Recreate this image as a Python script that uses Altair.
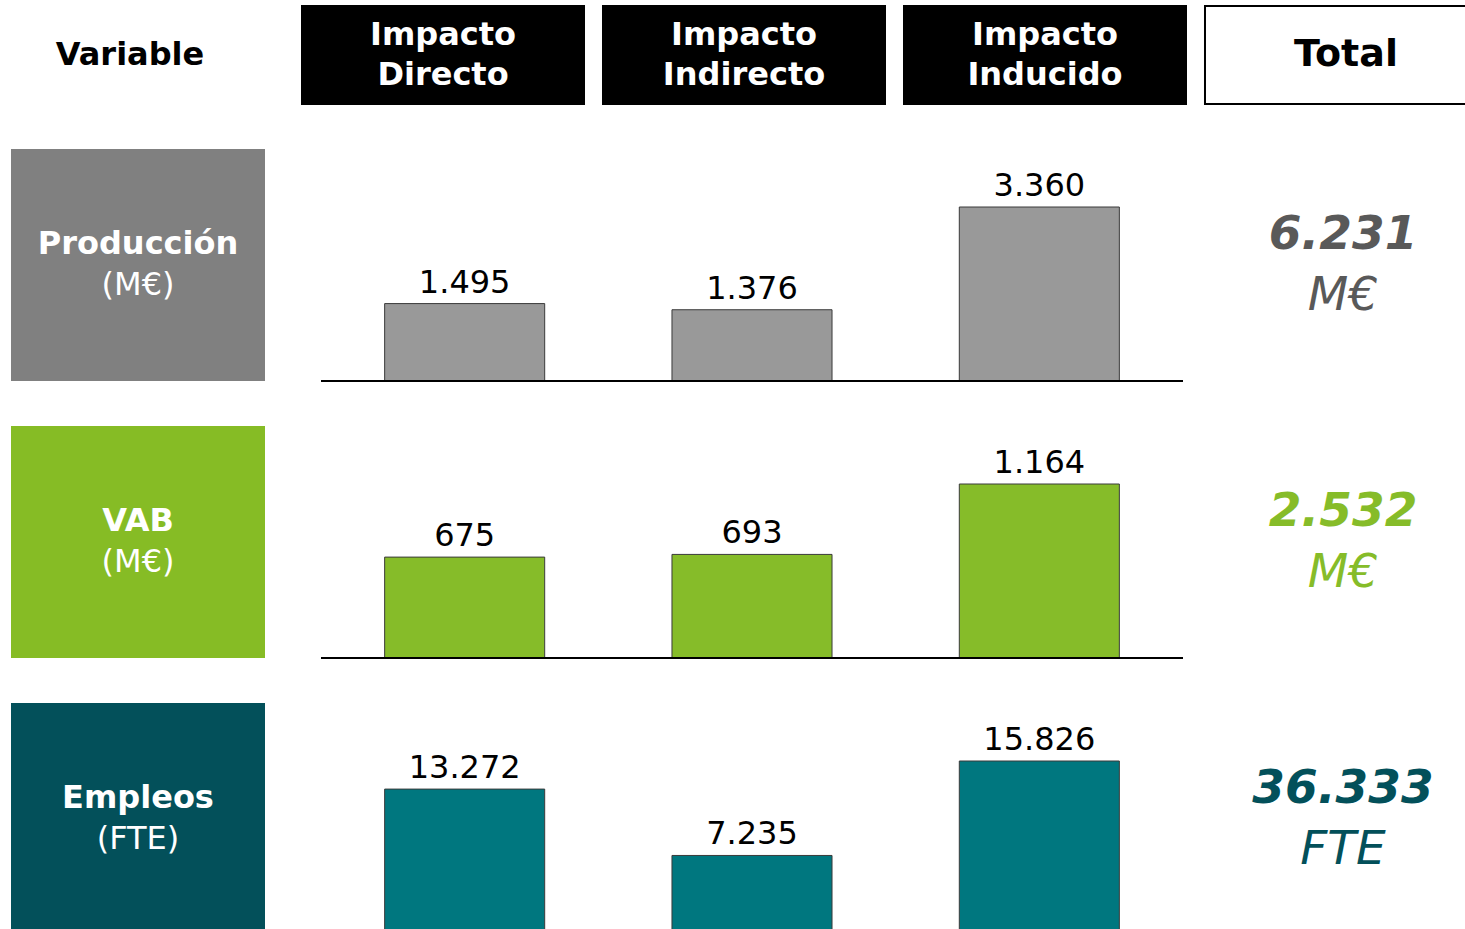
import altair as alt
import pandas as pd

# ---- data ----
variables = ["Producción", "VAB", "Empleos"]
units = ["(M€)", "(M€)", "(FTE)"]
total_units = ["M€", "M€", "FTE"]
impacts = ["Impacto Directo", "Impacto Indirecto", "Impacto Inducido"]
header_cols = ["Impacto\nDirecto", "Impacto\nIndirecto", "Impacto\nInducido", "Total"]
header_kind = ["impact", "impact", "impact", "total"]
produccion = [1495, 1376, 3360]
vab = [675, 693, 1164]
empleos = [13272, 7235, 15826]
series = [produccion, vab, empleos]

# ---- styles ----
box_colors = ["#808080", "#86bc25", "#03505a"]
bar_colors = ["#999999", "#86bc29", "#00777f"]
total_colors = ["#595959", "#86bc29", "#03505a"]
FONT = "DejaVu Sans"

fmt = "replace(format(datum.value, ',d'), ',', '.')"

rows_df = pd.DataFrame({"variable": variables, "unit": units, "tunit": total_units})
long_df = pd.DataFrame(
    [
        {"variable": v, "tunit": tu, "impact": imp, "value": val}
        for v, tu, vals in zip(variables, total_units, series)
        for imp, val in zip(impacts, vals)
    ]
)
header_df = pd.DataFrame({"col": header_cols, "kind": header_kind})

row_scale = alt.Scale(type="band", domain=variables, range=[149, 935], paddingInner=0.1625, paddingOuter=0)
hx = alt.Scale(type="band", domain=header_cols, range=[302, 1487], paddingInner=0.0631, paddingOuter=0)
bx = alt.Scale(type="band", domain=impacts, range=[321, 1183], paddingInner=0.443, paddingOuter=0.2215)

layers = []

# header "Variable"
layers.append(
    alt.Chart(pd.DataFrame({"t": ["Variable"]}))
    .mark_text(font=FONT, fontSize=32, fontWeight="bold", color="black", baseline="middle")
    .encode(x=alt.value(130), y=alt.value(55), text="t:N")
)
# header boxes
layers.append(
    alt.Chart(header_df)
    .mark_rect(stroke="black", strokeWidth=2)
    .encode(
        x=alt.X("col:N", scale=hx, axis=None),
        y=alt.value(6),
        y2=alt.value(104),
        fill=alt.Fill("kind:N", scale=alt.Scale(domain=["impact", "total"], range=["black", "white"]), legend=None),
    )
)
layers.append(
    alt.Chart(header_df)
    .transform_filter("datum.kind == 'impact'")
    .mark_text(font=FONT, fontSize=32, fontWeight="bold", color="white", baseline="middle", lineBreak="\n", lineHeight=40)
    .encode(x=alt.X("col:N", scale=hx, axis=None), y=alt.value(35), text="col:N")
)
layers.append(
    alt.Chart(header_df)
    .transform_filter("datum.kind == 'total'")
    .mark_text(font=FONT, fontSize=38, fontWeight="bold", color="black", baseline="middle")
    .encode(x=alt.X("col:N", scale=hx, axis=None), y=alt.value(55), text="col:N")
)

# left variable boxes
layers.append(
    alt.Chart(rows_df)
    .mark_rect()
    .encode(
        y=alt.Y("variable:N", scale=row_scale, axis=None),
        x=alt.value(11),
        x2=alt.value(265),
        color=alt.Color("variable:N", scale=alt.Scale(domain=variables, range=box_colors), legend=None),
    )
)
layers.append(
    alt.Chart(rows_df)
    .mark_text(font=FONT, fontSize=32, fontWeight="bold", color="white", baseline="middle", dy=-21)
    .encode(y=alt.Y("variable:N", scale=row_scale, axis=None), x=alt.value(138), text="variable:N")
)
layers.append(
    alt.Chart(rows_df)
    .mark_text(font=FONT, fontSize=32, color="white", baseline="middle", dy=20)
    .encode(y=alt.Y("variable:N", scale=row_scale, axis=None), x=alt.value(138), text="unit:N")
)

# bars per row
for i, (var, vals, col) in enumerate(zip(variables, series, bar_colors)):
    base_y = 149 + 232 + 277 * i
    ysc = alt.Scale(domain=[0, max(vals)], range=[base_y, base_y - 174], nice=False, zero=True)
    d = long_df[long_df["variable"] == var]
    layers.append(
        alt.Chart(d)
        .mark_bar(color=col, stroke="#3a3a3a", strokeWidth=1)
        .encode(x=alt.X("impact:N", scale=bx, axis=None), y=alt.Y("value:Q", scale=ysc, axis=None))
    )
    layers.append(
        alt.Chart(d)
        .transform_calculate(label=fmt)
        .mark_text(font=FONT, fontSize=32, color="black", baseline="alphabetic", dy=-11)
        .encode(x=alt.X("impact:N", scale=bx, axis=None), y=alt.Y("value:Q", scale=ysc, axis=None), text="label:N")
    )
    layers.append(
        alt.Chart(pd.DataFrame({"zero": [0]}))
        .mark_rule(color="black", strokeWidth=2)
        .encode(y=alt.Y("zero:Q", scale=ysc, axis=None), x=alt.value(321), x2=alt.value(1183))
    )

# totals
tot_color = alt.Color("variable:N", scale=alt.Scale(domain=variables, range=total_colors), legend=None)
layers.append(
    alt.Chart(long_df)
    .transform_aggregate(value="sum(value)", groupby=["variable", "tunit"])
    .transform_calculate(label=fmt)
    .mark_text(font=FONT, fontSize=47, fontWeight="bold", fontStyle="italic", baseline="middle", dy=-30)
    .encode(y=alt.Y("variable:N", scale=row_scale, axis=None), x=alt.value(1343), text="label:N", color=tot_color)
)
layers.append(
    alt.Chart(long_df)
    .transform_aggregate(value="sum(value)", groupby=["variable", "tunit"])
    .mark_text(font=FONT, fontSize=47, fontStyle="italic", baseline="middle", dy=31)
    .encode(y=alt.Y("variable:N", scale=row_scale, axis=None), x=alt.value(1343), text="tunit:N", color=tot_color)
)

chart = (
    alt.layer(*layers)
    .resolve_scale(x="independent", y="independent", color="independent", fill="independent")
    .properties(width=1465, height=929, padding=0, autosize="none", background="white")
    .configure_view(stroke=None)
)

chart.save("out.html", embed_options={"renderer": "svg", "actions": False})
